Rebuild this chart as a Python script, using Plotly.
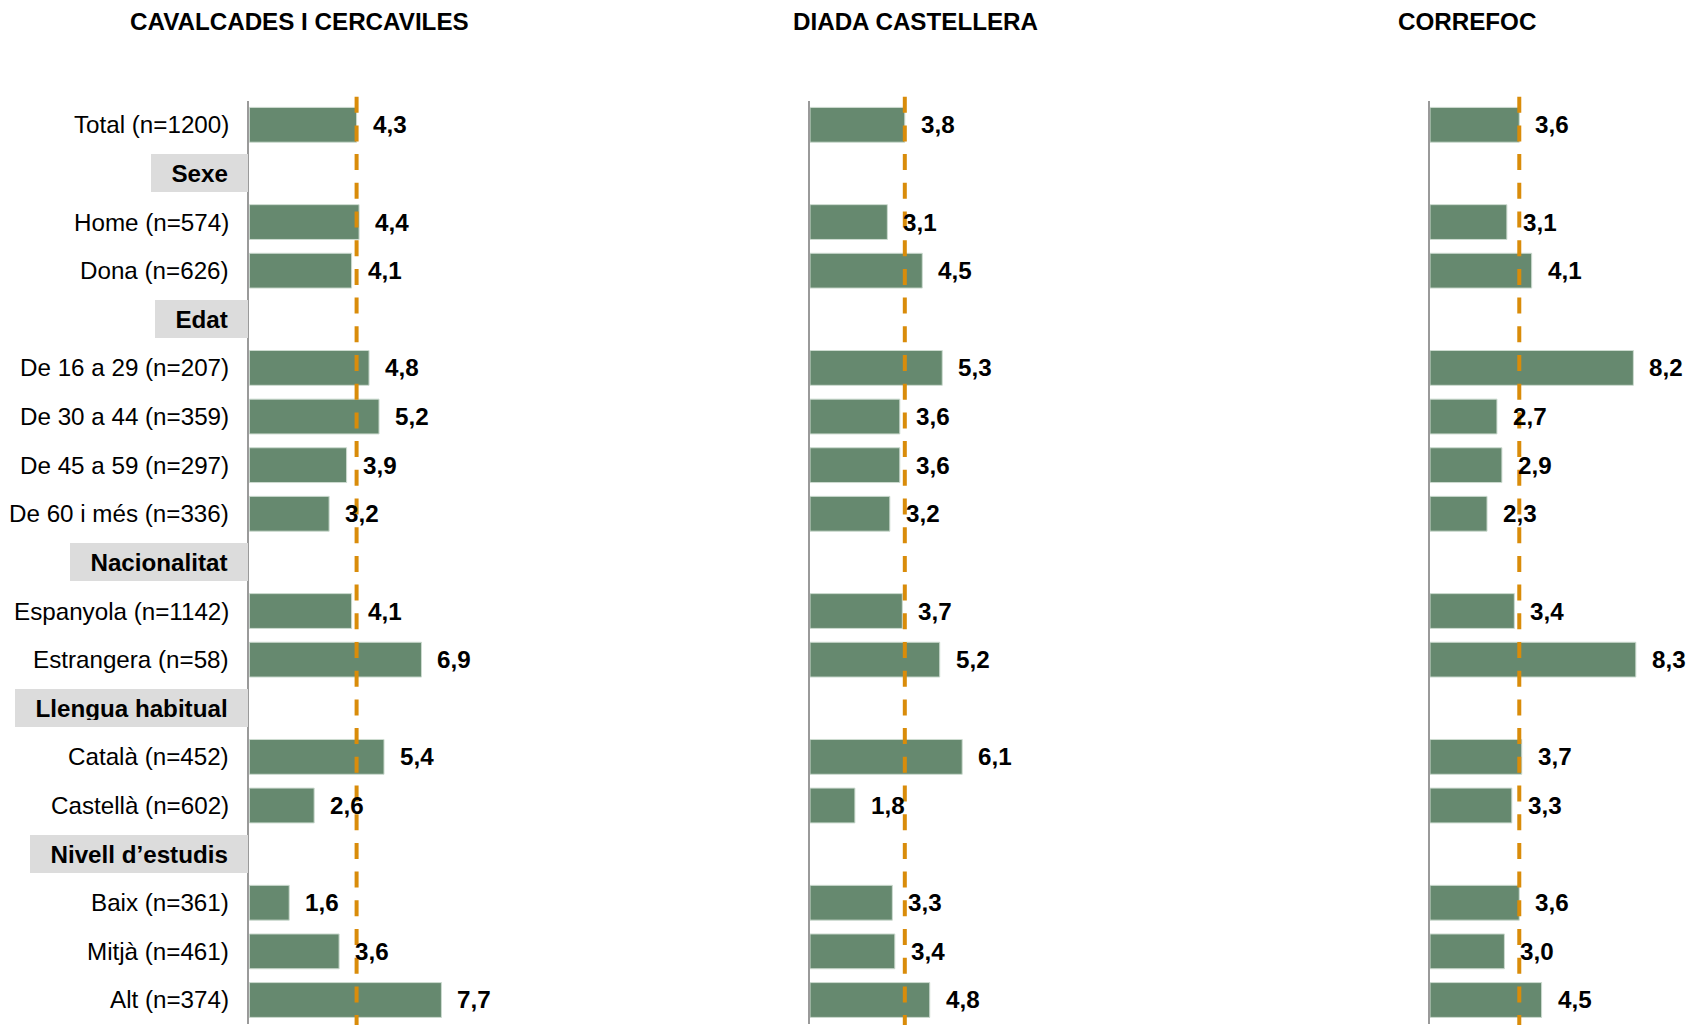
import plotly.graph_objects as go

# ---------------- data ----------------
rows = [
    "Total (n=1200)", "Sexe", "Home (n=574)", "Dona (n=626)", "Edat",
    "De 16 a 29 (n=207)", "De 30 a 44 (n=359)", "De 45 a 59 (n=297)", "De 60 i més (n=336)",
    "Nacionalitat", "Espanyola (n=1142)", "Estrangera (n=58)",
    "Llengua habitual", "Català (n=452)", "Castellà (n=602)",
    "Nivell d’estudis", "Baix (n=361)", "Mitjà (n=461)", "Alt (n=374)",
]
headers = ["Sexe", "Edat", "Nacionalitat", "Llengua habitual", "Nivell d’estudis"]

cavalcades = [4.3, None, 4.4, 4.1, None, 4.8, 5.2, 3.9, 3.2, None, 4.1, 6.9, None, 5.4, 2.6, None, 1.6, 3.6, 7.7]
diada = [3.8, None, 3.1, 4.5, None, 5.3, 3.6, 3.6, 3.2, None, 3.7, 5.2, None, 6.1, 1.8, None, 3.3, 3.4, 4.8]
correfoc = [3.6, None, 3.1, 4.1, None, 8.2, 2.7, 2.9, 2.3, None, 3.4, 8.3, None, 3.7, 3.3, None, 3.6, 3.0, 4.5]

titles = ["CAVALCADES I CERCAVILES", "DIADA CASTELLERA", "CORREFOC"]
series = [cavalcades, diada, correfoc]

# ---------------- style ----------------
OFF = 8  # default page body margin
W, H = 1699 - 2 * OFF, 1033 - 2 * OFF
FONT = "Liberation Sans, Arial, sans-serif"
FS = 24.2
BAR = "#66896F"
BAR_EDGE = "#cddbd0"
DASH = "#D98C0A"
AXIS = "#9a9a9a"
HEAD_BG = "#dcdcdc"

axis_px = [249.3, 810.0, 1430.0]
scale_px = [24.95, 24.95, 24.8]
title_cx = [299.7, 915.5, 1467.3]
XMAX = 9
y_top_px, y_bot_px = 100.5, 1024.3


def px_x(p):
    return (p - OFF) / W


def px_y(p):
    return 1 - (p - OFF) / H


fig = go.Figure()
layout = dict(
    width=W, height=H, autosize=False,
    margin=dict(l=0, r=0, t=0, b=0),
    paper_bgcolor="white", plot_bgcolor="white",
    showlegend=False, bargap=0.284,
    font=dict(family=FONT, size=FS, color="black"),
)
annotations = []
shapes = []

for i, vals in enumerate(series):
    n = "" if i == 0 else str(i + 1)
    xa, ya = "x" + n, "y" + n
    x0 = axis_px[i]
    x1 = x0 + XMAX * scale_px[i]
    layout["xaxis" + n] = dict(domain=[px_x(x0), px_x(x1)], range=[0, XMAX],
                               visible=False, anchor=ya, fixedrange=True)
    layout["yaxis" + n] = dict(domain=[px_y(y_bot_px), px_y(y_top_px)], anchor=xa,
                               type="category", categoryorder="array", categoryarray=rows,
                               range=[len(rows) - 0.5, -0.5],
                               showline=True, linecolor=AXIS, linewidth=1.7,
                               showticklabels=False, ticks="", showgrid=False,
                               zeroline=False, fixedrange=True)
    fig.add_trace(go.Bar(
        x=vals, y=rows, orientation="h", xaxis=xa, yaxis=ya,
        marker=dict(color=BAR, line=dict(color=BAR_EDGE, width=1)),
        hoverinfo="skip",
    ))
    # value labels
    for r, v in zip(rows, vals):
        if v is None:
            continue
        annotations.append(dict(
            x=v, y=r, xref=xa, yref=ya, xanchor="left", yanchor="middle",
            xshift=14, showarrow=False,
            text=f"{v:.1f}".replace(".", ","),
            font=dict(family=FONT, size=FS, color="black", weight="bold"),
        ))
    # reference dashed line at total value
    shapes.append(dict(
        type="line", xref=xa, yref="paper",
        x0=vals[0], x1=vals[0], y0=px_y(96.7), y1=0,
        line=dict(color=DASH, width=4, dash="16px,12.7px"),
        layer="above",
    ))
    # panel title
    annotations.append(dict(
        x=px_x(title_cx[i]), y=1, xref="paper", yref="paper",
        xanchor="center", yanchor="top", showarrow=False,
        borderpad=0, borderwidth=0,
        text=titles[i],
        font=dict(family=FONT, size=FS, color="black", weight="bold"),
    ))

# row labels (left of first panel)
NB = "\u00a0\u00a0"
for r in rows:
    if r in headers:
        annotations.append(dict(
            x=px_x(248.3), y=r, xref="paper", yref="y",
            xanchor="right", yanchor="middle", showarrow=False,
            text=NB + r + NB, bgcolor=HEAD_BG, borderwidth=0, borderpad=7,
            height=24,
            font=dict(family=FONT, size=FS, color="black", weight="bold"),
        ))
    else:
        annotations.append(dict(
            x=px_x(231.3), y=r, xref="paper", yref="y",
            xanchor="right", yanchor="middle", showarrow=False,
            text=r,
            font=dict(family=FONT, size=FS, color="black"),
        ))

layout["annotations"] = annotations
layout["shapes"] = shapes
fig.update_layout(**layout)
fig.write_html("out.html")
